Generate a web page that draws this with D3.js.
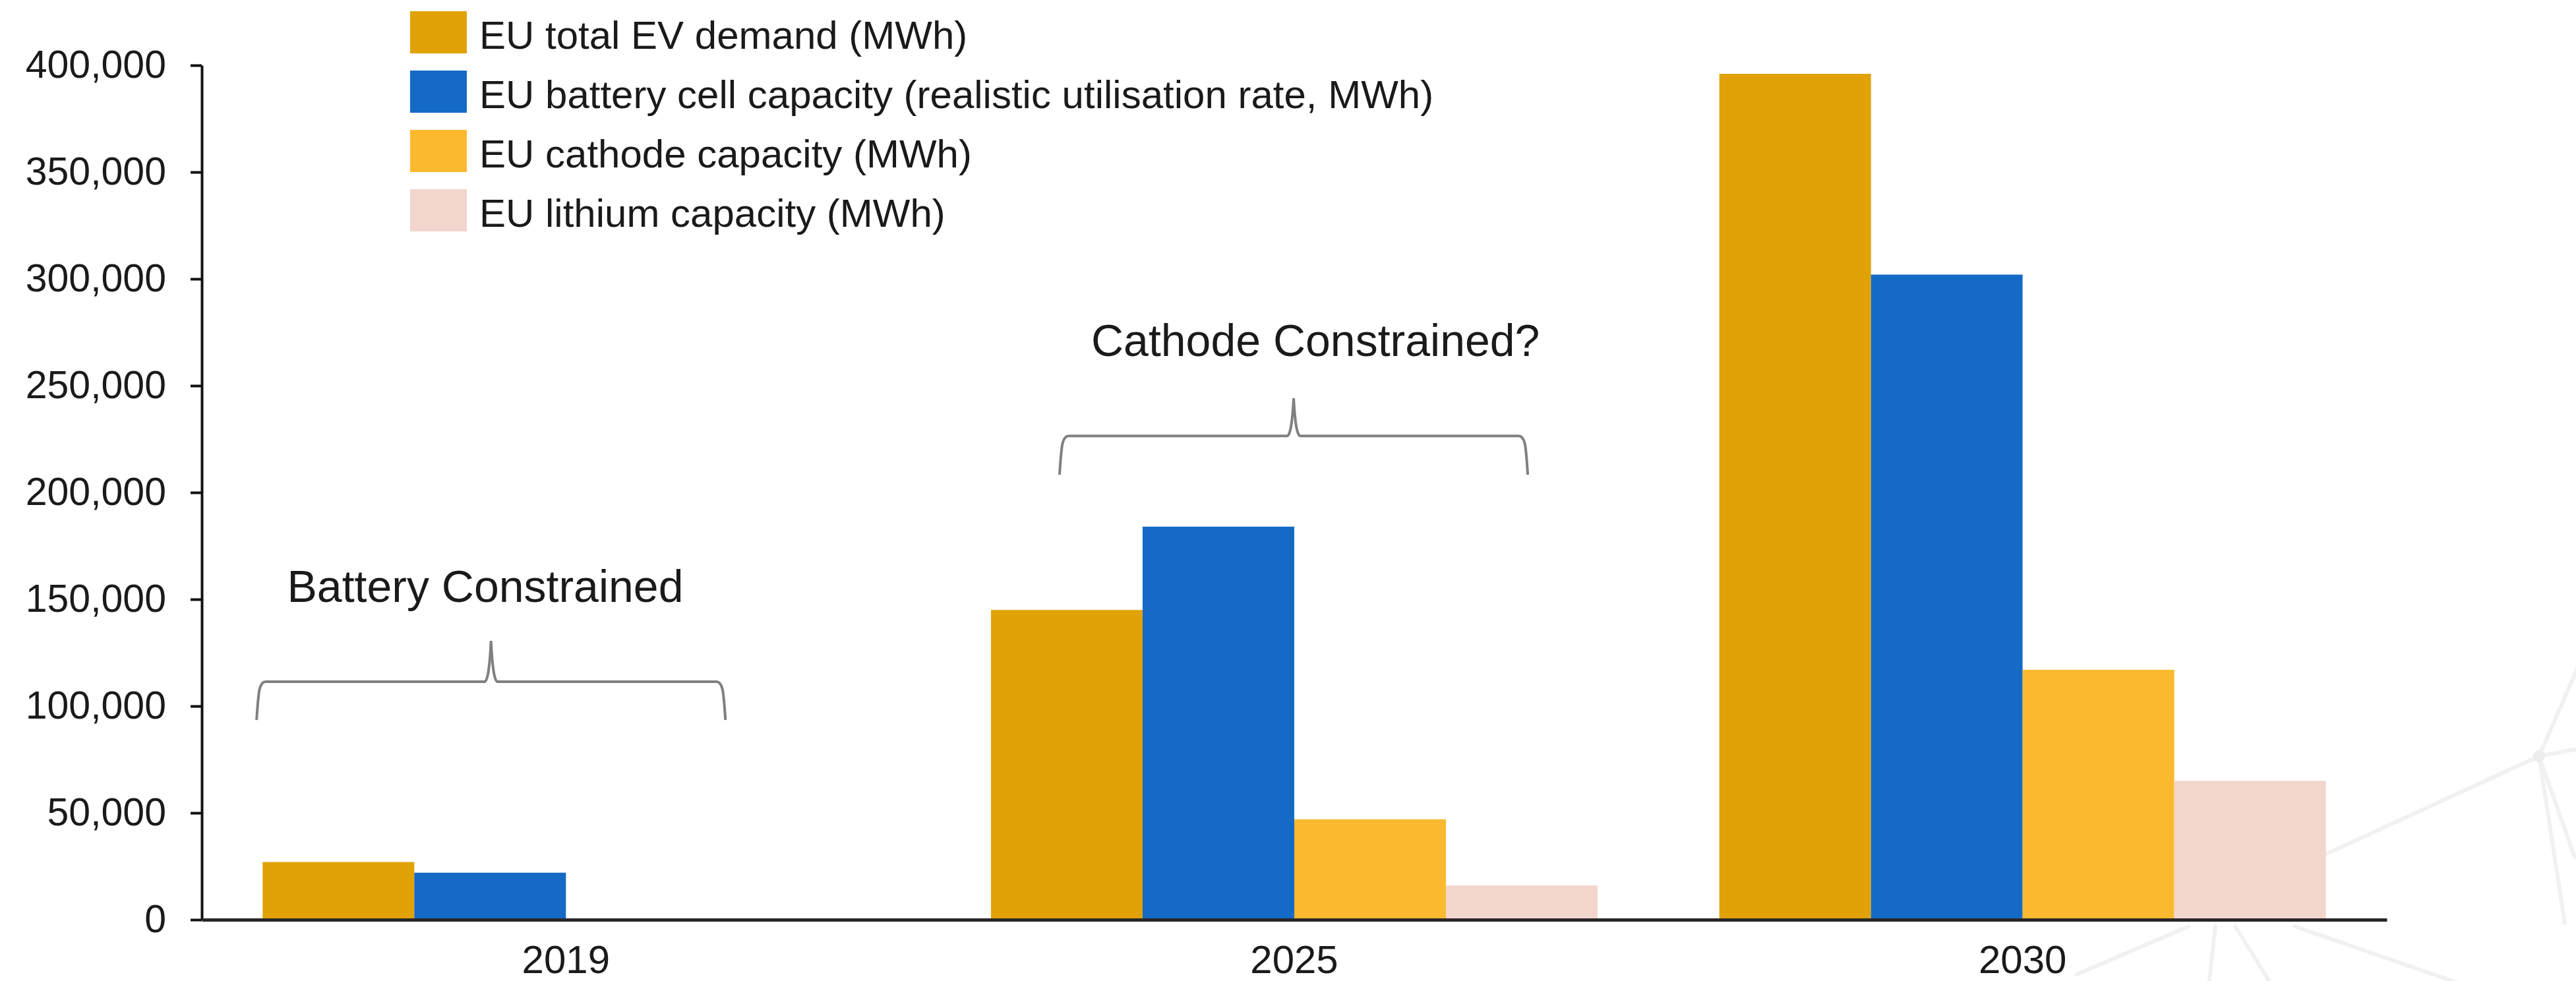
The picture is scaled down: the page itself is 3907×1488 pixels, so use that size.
<!DOCTYPE html>
<html>
<head>
<meta charset="utf-8">
<script src="https://cdn.jsdelivr.net/npm/d3@7"></script>
<style>
  html, body { margin: 0; padding: 0; background: #ffffff; }
  svg { display: block; }
  text { font-family: "Liberation Sans", Arial, sans-serif; }
</style>
</head>
<body>
<svg id="chart" width="3907" height="1488"></svg>
<script>
// Years on the category axis
const years = ["2019", "2025", "2030"];

// Series names (legend order = bar order within a year)
const seriesNames = [
  "EU total EV demand (MWh)",
  "EU battery cell capacity (realistic utilisation rate, MWh)",
  "EU cathode capacity (MWh)",
  "EU lithium capacity (MWh)"
];

// Values per series, one per year (MWh)
const evDemand      = [27000, 145000, 396000];
const batteryCells  = [22000, 184000, 302000];
const cathode       = [0, 47000, 117000];
const lithium       = [0, 16000, 65000];

const seriesColors = ["#E0A206", "#156AC6", "#FBB92F", "#F2D5CD"];

// Y axis ticks
const yTicks = [0, 50000, 100000, 150000, 200000, 250000, 300000, 350000, 400000];

// Bracket call-outs: band-relative x fractions, value levels for the bracket
const calloutYears  = ["2019", "2025"];
const calloutTexts  = ["Battery Constrained", "Cathode Constrained?"];
const calloutFrom   = [-0.01, 0.113];
const calloutTo     = [0.763, 0.885];
const calloutTextX  = [0.367, 0.535];
const calloutLine   = [111400, 226500];
const calloutEnds   = [93500, 208300];
const calloutTip    = [130500, 244100];
const calloutTextAt = [148800, 263900];

const seriesValues = [evDemand, batteryCells, cathode, lithium];

const svg = d3.select("#chart");

const margin = { left: 306, right: 287, top: 99, bottom: 93 };
const W = 3907, H = 1488;

const x0 = d3.scaleBand()
  .domain(years)
  .range([margin.left, W - margin.right])
  .paddingInner(0.1672)
  .paddingOuter(0.0836);

const x1 = d3.scaleBand()
  .domain(d3.range(seriesNames.length))
  .range([0, x0.bandwidth()])
  .padding(0);

const y = d3.scaleLinear()
  .domain([0, 400000])
  .range([H - margin.bottom, margin.top]);

// faint network-style ornament in the lower right corner
const ornament = svg.append("g")
  .attr("stroke", "#f1f1f1")
  .attr("stroke-width", 6)
  .attr("fill", "none")
  .attr("stroke-linecap", "round");
const ornamentSegments = [
  [[3851, 1147], [3420, 1345]],
  [[3851, 1147], [3915, 1000]],
  [[3851, 1147], [3915, 1135]],
  [[3851, 1147], [3905, 1300]],
  [[3851, 1147], [3890, 1400]],
  [[3150, 1478], [3320, 1405]],
  [[3390, 1405], [3446, 1495]],
  [[3480, 1405], [3740, 1495]],
  [[3360, 1405], [3350, 1495]]
];
ornamentSegments.forEach(s => {
  ornament.append("line")
    .attr("x1", s[0][0]).attr("y1", s[0][1])
    .attr("x2", s[1][0]).attr("y2", s[1][1]);
});
ornament.append("circle").attr("cx", 3851).attr("cy", 1147).attr("r", 9)
  .attr("fill", "#ececec").attr("stroke", "none");

// Bars
const groups = svg.append("g")
  .selectAll("g")
  .data(years)
  .join("g")
  .attr("transform", d => `translate(${x0(d)},0)`);

groups.selectAll("rect")
  .data((yr, i) => seriesValues.map((vals, s) => ({ s, v: vals[i] })))
  .join("rect")
  .attr("x", d => x1(d.s))
  .attr("width", x1.bandwidth())
  .attr("y", d => y(d.v))
  .attr("height", d => y(0) - y(d.v))
  .attr("fill", d => seriesColors[d.s]);

// Y axis
const yAxis = svg.append("g")
  .attr("transform", `translate(${margin.left},0)`)
  .call(d3.axisLeft(y)
    .tickValues(yTicks)
    .tickFormat(d3.format(","))
    .tickSizeInner(17)
    .tickSizeOuter(0)
    .tickPadding(37));
yAxis.select(".domain").attr("stroke", "#111").attr("stroke-width", 4);
yAxis.selectAll(".tick line").attr("stroke", "#111").attr("stroke-width", 4);
yAxis.selectAll(".tick text")
  .attr("fill", "#1a1a1a")
  .style("font-size", "59px")
  .style("font-family", "'Liberation Sans', Arial, sans-serif");

// X axis
const xAxis = svg.append("g")
  .attr("transform", `translate(0,${y(0)})`)
  .call(d3.axisBottom(x0)
    .tickSizeInner(0)
    .tickSizeOuter(0)
    .tickPadding(38));
xAxis.select(".domain").attr("stroke", "#2a2626").attr("stroke-width", 5);
xAxis.selectAll(".tick text")
  .attr("fill", "#1a1a1a")
  .style("font-size", "60px")
  .style("font-family", "'Liberation Sans', Arial, sans-serif");

// Bracket call-outs
const callouts = svg.append("g");
calloutYears.forEach((yr, i) => {
  const bx = x0(yr), bw = x0.bandwidth();
  const xa = bx + calloutFrom[i] * bw;
  const xb = bx + calloutTo[i] * bw;
  const cx = (xa + xb) / 2;
  const yl = y(calloutLine[i]);
  const ye = y(calloutEnds[i]);
  const yt = y(calloutTip[i]);
  const p = d3.path();
  p.moveTo(xa, ye);
  p.bezierCurveTo(xa + 3, yl + 18, xa + 3, yl, xa + 14, yl);
  p.lineTo(cx - 10, yl);
  p.quadraticCurveTo(cx - 3, yl, cx, yt);
  p.quadraticCurveTo(cx + 3, yl, cx + 10, yl);
  p.lineTo(xb - 14, yl);
  p.bezierCurveTo(xb - 3, yl, xb - 3, yl + 18, xb, ye);
  callouts.append("path")
    .attr("d", p.toString())
    .attr("fill", "none")
    .attr("stroke", "#808080")
    .attr("stroke-width", 4);
  callouts.append("text")
    .attr("x", bx + calloutTextX[i] * bw)
    .attr("y", y(calloutTextAt[i]))
    .attr("text-anchor", "middle")
    .attr("fill", "#1a1a1a")
    .style("font-size", "68px")
    .text(calloutTexts[i]);
});

// Legend
const legend = svg.append("g").attr("transform", "translate(622,17)");
const legendRows = legend.selectAll("g")
  .data(seriesNames)
  .join("g")
  .attr("transform", (d, i) => `translate(0,${i * 90})`);
legendRows.append("rect")
  .attr("width", 86)
  .attr("height", 64)
  .attr("fill", (d, i) => seriesColors[i]);
legendRows.append("text")
  .attr("x", 105)
  .attr("y", 57)
  .attr("fill", "#1a1a1a")
  .style("font-size", "60px")
  .text(d => d);
</script>
</body>
</html>
